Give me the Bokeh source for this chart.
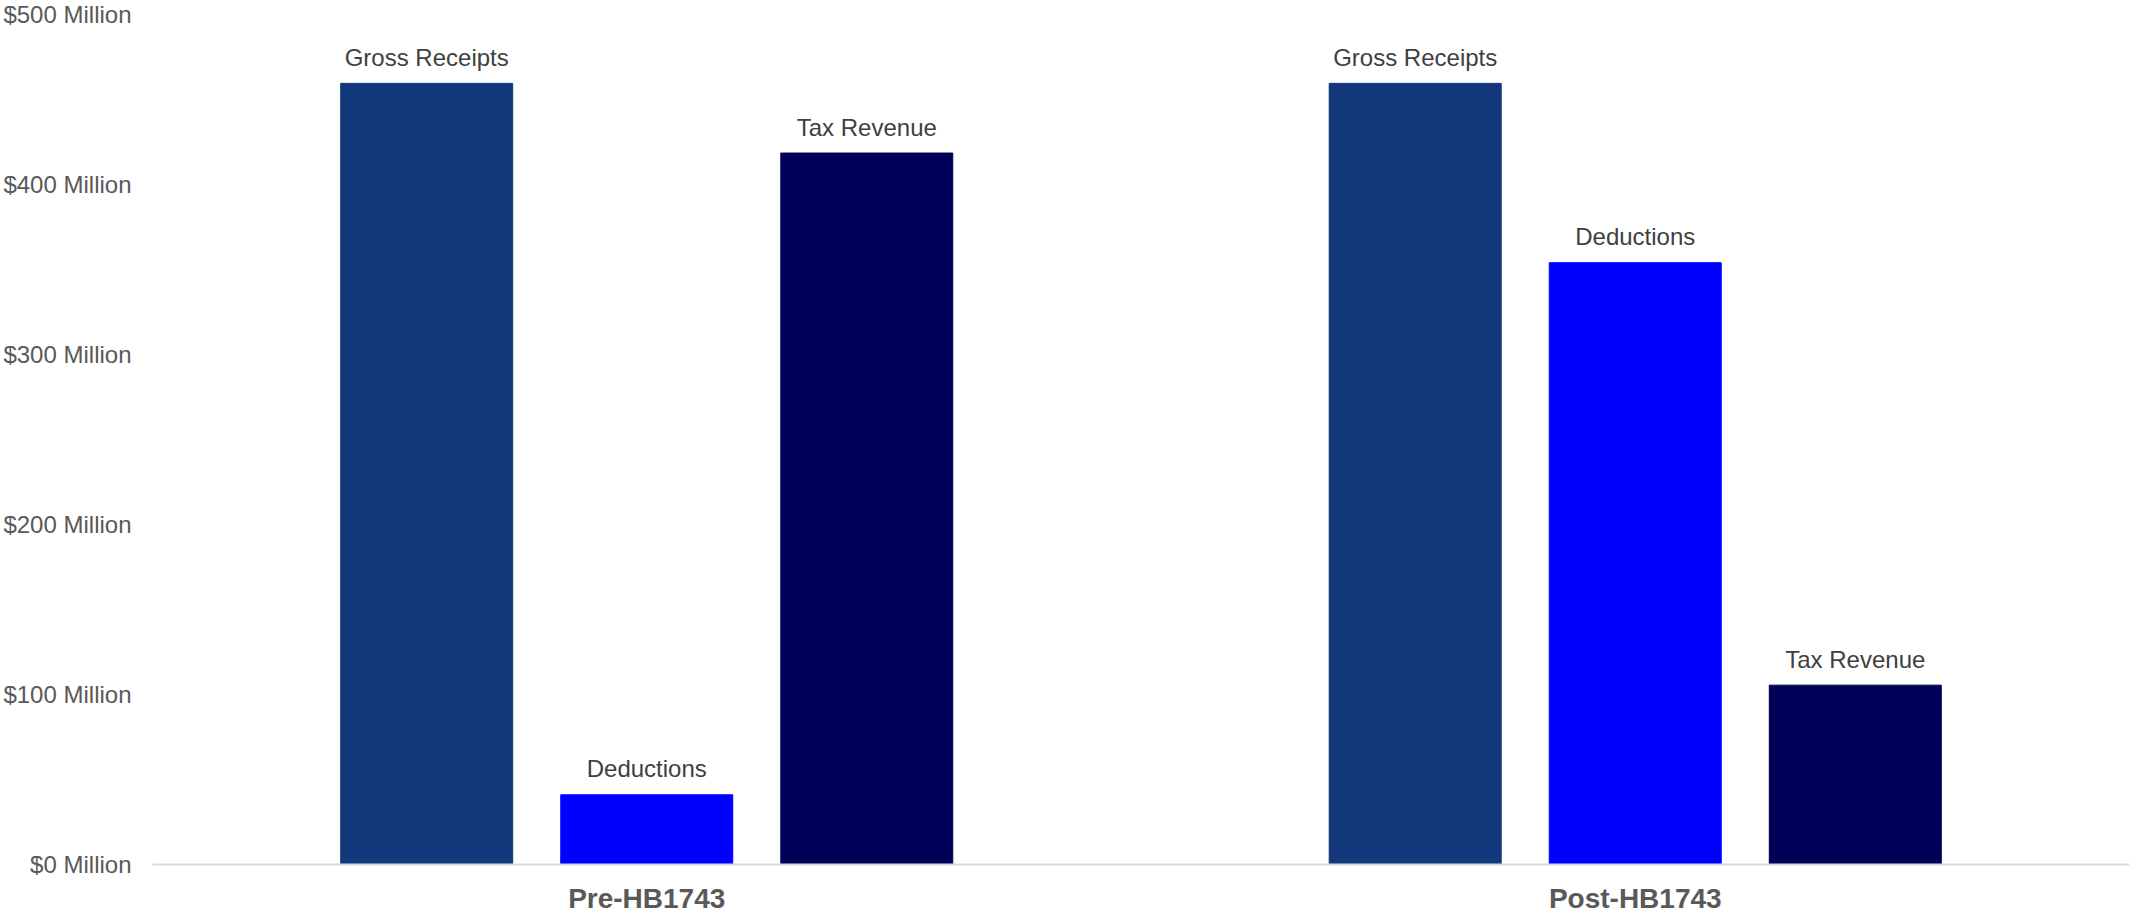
from bokeh.plotting import figure
from bokeh.models import (ColumnDataSource, FactorRange, Range1d, FixedTicker,
                          PrintfTickFormatter, LabelSet)
from bokeh.core.properties import value
from bokeh.transform import dodge
from bokeh.embed import file_html
from bokeh.resources import INLINE

# ---- data (millions of dollars) ----
categories = ["Pre-HB1743", "Post-HB1743"]
series = ["Gross Receipts", "Deductions", "Tax Revenue"]
gross_receipts = [459.5, 459.5]
deductions = [41.0, 354.0]
tax_revenue = [418.5, 105.5]
y_ticks = [0, 100, 200, 300, 400, 500]

colors = ["#13387b", "#0000ff", "#000058"]
offsets = [-0.2226, 0.0, 0.2226]
bar_width = 0.174

FONT = "Liberation Sans"

p = figure(x_range=FactorRange(factors=categories, range_padding=0.0),
           y_range=Range1d(0, 500),
           frame_width=1977, frame_height=850,
           output_backend="svg", toolbar_location=None,
           min_border_left=152, min_border_right=0,
           min_border_top=14, min_border_bottom=0)
p.outline_line_color = None
p.background_fill_color = "white"
p.border_fill_color = "white"
p.xgrid.grid_line_color = None
p.ygrid.grid_line_color = None

values = [gross_receipts, deductions, tax_revenue]
for name, vals, col, off in zip(series, values, colors, offsets):
    src = ColumnDataSource(dict(cat=categories, val=vals,
                                lab=[name] * len(categories)))
    xd = dodge("cat", off, range=p.x_range)
    p.vbar(x=xd, top="val", width=bar_width, source=src,
           fill_color=col, line_color=col, line_width=1)
    labels = LabelSet(x=xd, y="val", text="lab", source=src,
                      y_offset=26, text_align="center", text_baseline="middle",
                      text_font=value(FONT), text_font_size="24px",
                      text_color="#404040")
    p.add_layout(labels)

# y axis
p.yaxis.ticker = FixedTicker(ticks=y_ticks)
p.yaxis.formatter = PrintfTickFormatter(format="$%d Million")
p.yaxis.axis_line_color = None
p.yaxis.major_tick_line_color = None
p.yaxis.minor_tick_line_color = None
p.yaxis.major_label_standoff = 15
p.yaxis.major_label_text_font = FONT
p.yaxis.major_label_text_font_size = "24px"
p.yaxis.major_label_text_color = "#595959"

# x axis
p.xaxis.axis_line_color = "#d9d9d9"
p.xaxis.axis_line_width = 2
p.xaxis.major_tick_line_color = None
p.xaxis.minor_tick_line_color = None
p.xaxis.major_label_standoff = 12
p.xaxis.major_label_text_font = FONT
p.xaxis.major_label_text_font_size = "28px"
p.xaxis.major_label_text_font_style = "bold"
p.xaxis.major_label_text_color = "#595959"

open("out.html", "w").write(file_html(p, INLINE))
